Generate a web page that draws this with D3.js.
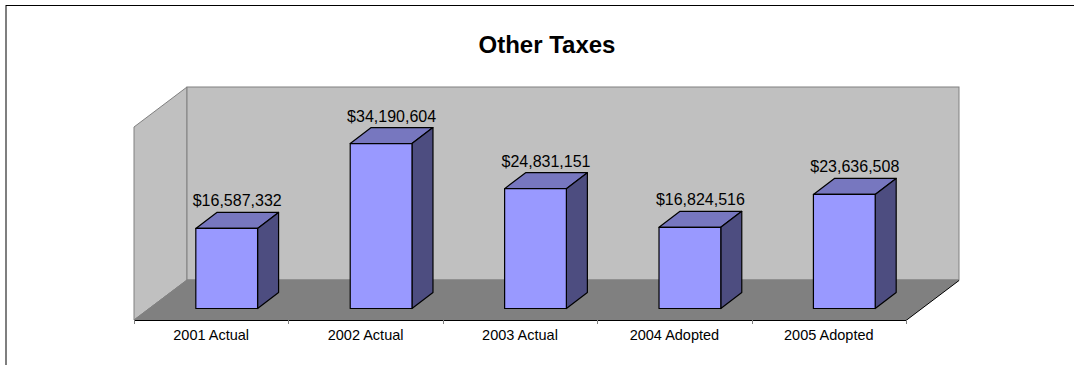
<!DOCTYPE html>
<html>
<head>
<meta charset="utf-8">
<script src="https://cdn.jsdelivr.net/npm/d3@7/dist/d3.min.js"></script>
<style>
html, body { margin: 0; padding: 0; background: #fff; overflow: hidden; }
svg { display: block; }
text { font-family: "Liberation Sans", Arial, sans-serif; fill: #000; }
</style>
</head>
<body>
<svg id="chart" width="1074" height="365"></svg>
<script>
// Annual revenue from other taxes
const categories = ["2001 Actual", "2002 Actual", "2003 Actual", "2004 Adopted", "2005 Adopted"];
const values = [16587332, 34190604, 24831151, 16824516, 23636508];
const chartTitle = "Other Taxes";

const svg = d3.select("#chart");

// Plot box: front floor edge, oblique depth of the room and of each bar
const plot = { left: 134, right: 906, front: 320, wallHeight: 193 };
const depth = { x: 53, y: -40 };
const barDepth = { x: 21, y: -16 };
const barInset = { x: 15.5, y: -11.5 };

const x = d3.scaleBand().domain(categories).range([plot.left, plot.right]).paddingInner(0.6).paddingOuter(0.3);
const y = d3.scaleLinear().domain([0, 40000000]).range([0, plot.wallHeight]);
const money = d => "$" + d3.format(",")(d);
const poly = pts => pts.map(p => p.join(",")).join(" ");

// Outer frame
svg.append("rect")
  .attr("x", 6).attr("y", 5.5)
  .attr("width", 1200).attr("height", 500)
  .attr("fill", "#fff").attr("stroke", "#000").attr("stroke-width", 1);

svg.append("text")
  .attr("x", 547).attr("y", 53)
  .attr("text-anchor", "middle")
  .attr("font-size", 24).attr("font-weight", "bold")
  .text(chartTitle);

// Room: left wall, back wall, floor
const wallStroke = "#808080";
const L = plot.left, R = plot.right, F = plot.front, H = plot.wallHeight;
const room = svg.append("g").attr("stroke-linejoin", "miter");
room.append("polygon")
  .attr("points", poly([[L, F], [L, F - H], [L + depth.x, F - H + depth.y], [L + depth.x, F + depth.y]]))
  .attr("fill", "#c0c0c0").attr("stroke", wallStroke);
room.append("rect")
  .attr("x", L + depth.x).attr("y", F - H + depth.y)
  .attr("width", R - L).attr("height", H)
  .attr("fill", "#c0c0c0").attr("stroke", wallStroke);
room.append("polygon")
  .attr("points", poly([[L, F], [L + depth.x, F + depth.y], [R + depth.x, F + depth.y], [R, F]]))
  .attr("fill", "#808080").attr("stroke", wallStroke);

// Front floor edge and category axis
const axis = d3.axisBottom(x).tickSize(0).tickPadding(9);
const axisG = svg.append("g").attr("transform", `translate(0,${F + 0.5})`).call(axis);
axisG.select(".domain").remove();
axisG.selectAll("text").attr("font-size", 14.5).attr("font-family", null);
svg.append("line")
  .attr("x1", L).attr("x2", R).attr("y1", F + 0.5).attr("y2", F + 0.5)
  .attr("stroke", "#000");
svg.append("line")
  .attr("x1", R).attr("x2", R + depth.x).attr("y1", F + 0.5).attr("y2", F + depth.y + 0.5)
  .attr("stroke", "#000");
d3.range(categories.length + 1).forEach(i => {
  const tx = Math.round(L + i * x.step()) + 0.5;
  svg.append("line").attr("x1", tx).attr("x2", tx).attr("y1", F).attr("y2", F + 4).attr("stroke", "#808080");
});

// Bars: front, top and side faces with a value label above
const bars = svg.append("g").selectAll("g").data(categories.map((c, i) => ({ c, v: values[i] }))).join("g");
const bx0 = d => x(d.c) + barInset.x;
const bx1 = d => bx0(d) + x.bandwidth();
const base = F + barInset.y;
const barTop = d => base - y(d.v);
const faceStyle = s => s.attr("stroke", "#000").attr("stroke-width", 1.2).attr("stroke-linejoin", "round");

bars.append("polygon").call(faceStyle).attr("fill", "#7777bf")
  .attr("points", d => poly([[bx0(d), barTop(d)], [bx0(d) + barDepth.x, barTop(d) + barDepth.y], [bx1(d) + barDepth.x, barTop(d) + barDepth.y], [bx1(d), barTop(d)]]));
bars.append("polygon").call(faceStyle).attr("fill", "#4d4d80")
  .attr("points", d => poly([[bx1(d), barTop(d)], [bx1(d) + barDepth.x, barTop(d) + barDepth.y], [bx1(d) + barDepth.x, base + barDepth.y], [bx1(d), base]]));
bars.append("rect").call(faceStyle).attr("fill", "#9999ff")
  .attr("x", bx0).attr("y", barTop)
  .attr("width", x.bandwidth()).attr("height", d => y(d.v));
bars.append("text")
  .attr("x", d => (bx0(d) + bx1(d) + barDepth.x) / 2)
  .attr("y", d => barTop(d) + barDepth.y - 6)
  .attr("text-anchor", "middle")
  .attr("font-size", 16)
  .text(d => money(d.v));
</script>
</body>
</html>
